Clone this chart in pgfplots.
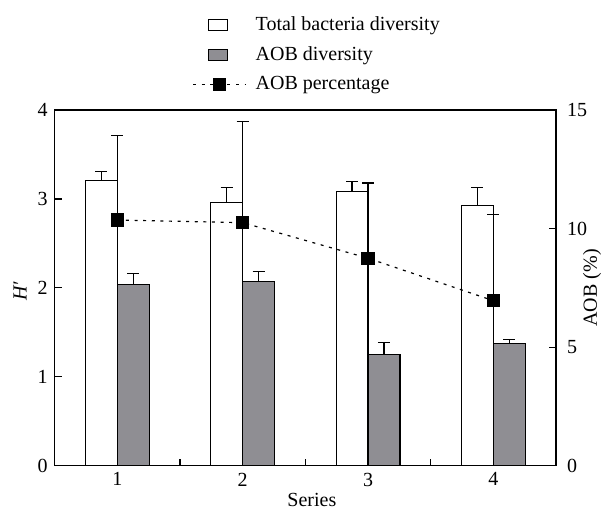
\documentclass[border=0pt]{standalone}
\usepackage{fontspec}
\setmainfont{Liberation Serif}
\usepackage{pgfplots}
\usepackage{pgfplotstable}
\pgfplotsset{compat=1.18}
\definecolor{barGray}{RGB}{143,142,147}

\pgfplotstableread{
x  y     e
1  3.205 0.10
2  2.962 0.17
3  3.081 0.12
4  2.928 0.20
}\totaldata
\pgfplotstableread{
x  y     e
1  2.040 0.12
2  2.069 0.12
3  1.253 0.13
4  1.372 0.045
}\aobdata
\pgfplotstableread{
x  y      e
1  10.36  3.58
2  10.25  4.26
3  8.75   3.17
4  6.96   3.63
}\pctdata

\pgfplotsset{
  pctlegend/.style={legend image code/.code={\draw[mark repeat=2,mark phase=2,##1] plot coordinates {(0pt,0pt)(13.25pt,0pt)(26.5pt,0pt)};}},
  whitebox/.style={legend image code/.code={\draw[fill=white,draw=black,line width=0.55pt] (7.75pt,-2.75pt) rectangle (17.25pt,2.75pt); \path (0pt,0pt) (26.5pt,0pt);}},
  graybox/.style={legend image code/.code={\draw[fill=barGray,draw=black,line width=0.55pt] (7.75pt,-2.75pt) rectangle (17.25pt,2.75pt); \path (0pt,0pt) (26.5pt,0pt);}},
  common/.style={
    scale only axis, width=250.65pt, height=177.85pt,
    xmin=0.5, xmax=4.5,
    tick align=inside,
    major tick length=3.5pt,
    axis line style={line width=0.6pt},
    tick style={line width=0.6pt, black},
    tick label style={font=\fontsize{10}{12}\selectfont},
    label style={font=\fontsize{10}{12}\selectfont},
    /pgf/number format/assume math mode=true,
  },
}

\begin{document}
\fontsize{10}{12}\selectfont
\begin{tikzpicture}
\begin{axis}[common, name=ax,
  ymin=0, ymax=4, ytick={0,1,2,3,4},
  xtick={1.5,2.5,3.5}, xticklabels={},
  x tick style={line width=0.8pt, black},
  extra x ticks={1,2,3,4},
  extra x tick labels={1,2,3,4},
  extra x tick style={major tick length=0pt},
  xtick pos=bottom, ytick pos=left,
  axis on top,
  xlabel={Series},
  ylabel={\textit{H′}},
  every axis x label/.style={at={(axis description cs:0.513,-0.096)}, anchor=center},
  every axis y label/.style={at={(axis description cs:-0.069,0.49)}, rotate=90, anchor=center},
]
\addplot[ybar, bar width=0.255, bar shift=0, fill=white, draw=black, line width=0.55pt,
  error bars/.cd, y dir=plus, y explicit,
  error bar style={line width=0.55pt, black},
  error mark options={line width=0.55pt, black, mark size=3pt, rotate=90}]
  table[x expr=\thisrow{x}-0.1275, y=y, y error=e] {\totaldata};
\addplot[ybar, bar width=0.255, bar shift=0, fill=barGray, draw=black, line width=0.55pt,
  error bars/.cd, y dir=plus, y explicit,
  error bar style={line width=0.55pt, black},
  error mark options={line width=0.55pt, black, mark size=3pt, rotate=90}]
  table[x expr=\thisrow{x}+0.1275, y=y, y error=e] {\aobdata};
\end{axis}

\begin{axis}[common,
  ymin=0, ymax=15, ytick={0,5,10,15},
  axis x line=none, axis y line*=right,
  yticklabel style={xshift=2pt},
  ylabel={AOB (\%)},
  every axis y label/.style={at={(axis description cs:1.0718,0.5)}, rotate=90, anchor=center},
  legend style={at={(axis description cs:0.274,1.2755)}, anchor=north west,
    draw=none, fill=none, inner sep=0pt, row sep=2.6pt,
    nodes={inner xsep=4.5pt},
    font=\fontsize{10}{12}\selectfont},
  legend cell align=left,
]
\addlegendimage{whitebox}
\addlegendentry{Total bacteria diversity}
\addlegendimage{graybox}
\addlegendentry{AOB diversity}
\addplot[black, line width=0.6pt, dash pattern=on 1.5pt off 2.8pt,
  mark=square*, mark size=3pt, mark options={solid},
  pctlegend,
  error bars/.cd, y dir=plus, y explicit,
  error bar style={line width=0.55pt, black, solid},
  error mark options={line width=0.55pt, black, solid, mark size=3pt, rotate=90}]
  table[x=x, y=y, y error=e] {\pctdata};
\addlegendentry{AOB percentage}
\end{axis}
\pgfresetboundingbox
\path[use as bounding box] ([xshift=-27.35pt,yshift=-21.15pt]ax.south west) rectangle ([xshift=25.5pt,yshift=55pt]ax.north east);
\end{tikzpicture}
\end{document}
